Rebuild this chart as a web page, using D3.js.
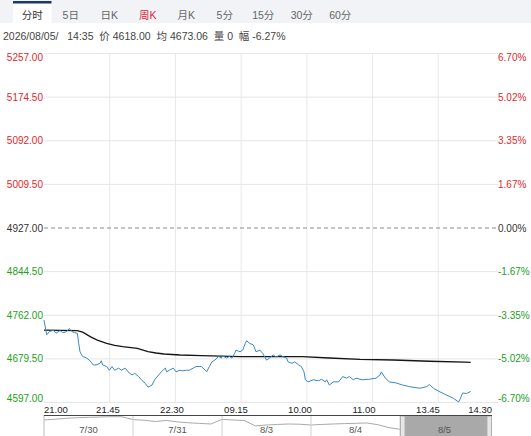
<!DOCTYPE html>
<html>
<head>
<meta charset="utf-8">
<script src="https://cdn.jsdelivr.net/npm/d3@7/dist/d3.min.js"></script>
<style>
body { margin: 0; background: #fff; }
svg { display: block; font-family: "Liberation Sans", Arial, "Noto Sans CJK SC", sans-serif; }
</style>
</head>
<body>
<div id="chart"></div>
<script>
// tabs and quote header
const tabs = ['分时', '5日', '日K', '周K', '月K', '5分', '15分', '30分', '60分'];
const activeTab = '分时';
const hotTab = '周K';
const quoteDate = '2026/08/05/';
const quoteTime = '14:35';
const lastPrice = 4618.00;
const avgPrice = 4673.06;
const volume = 0;
const changePct = '-6.27%';

// axes
const prevSettle = 4927;
const yTicks = [5257, 5174.5, 5092, 5009.5, 4927, 4844.5, 4762, 4679.5, 4597];
const xLabels = ['21.00', '21.45', '22.30', '09.15', '10.00', '11.00', '13.45', '14.30'];
const sessions = [['21:00', '23:00'], ['09:00', '10:15'], ['10:30', '11:30'], ['13:30', '15:00']];

// price line
const priceTimes = ['21:00', '21:02', '21:04', '21:07', '21:09', '21:12', '21:14', '21:17', '21:19', '21:21',
                    '21:23', '21:25', '21:26', '21:27', '21:29', '21:32', '21:34', '21:37', '21:39', '21:42',
                    '21:43', '21:44', '21:47', '21:49', '21:51', '21:53', '21:56', '21:58', '22:01', '22:03',
                    '22:06', '22:08', '22:11', '22:13', '22:16', '22:18', '22:21', '22:23', '22:26', '22:28',
                    '22:31', '22:32', '22:34', '22:37', '22:39', '22:42', '22:44', '22:47', '22:49', '22:52',
                    '22:54', '22:58', '09:01', '09:02', '09:04', '09:06', '09:08', '09:11', '09:13', '09:14',
                    '09:17', '09:19', '09:21', '09:23', '09:24', '09:27', '09:29', '09:31', '09:32', '09:34',
                    '09:37', '09:39', '09:42', '09:44', '09:47', '09:49', '09:52', '09:54', '09:57', '09:59',
                    '10:02', '10:03', '10:06', '10:08', '10:11', '10:13', '10:30', '10:31', '10:33', '10:37',
                    '10:41', '10:43', '10:46', '10:47', '10:49', '10:52', '10:56', '10:59', '11:02', '11:04',
                    '11:07', '11:09', '11:12', '11:14', '11:19', '11:24', '11:27', '11:28', '13:31', '13:34',
                    '13:39', '13:44', '13:49', '13:54', '13:57', '14:02', '14:04', '14:07', '14:12', '14:17',
                    '14:22', '14:26', '14:27', '14:29', '14:32', '14:35'];
const prices = [4753, 4725, 4731, 4734, 4728, 4733, 4729, 4731, 4737, 4731,
                4729, 4728, 4709, 4693, 4684, 4681, 4677, 4668, 4668, 4671,
                4676, 4668, 4665, 4658, 4665, 4658, 4662, 4658, 4662, 4655,
                4649, 4652, 4646, 4640, 4633, 4626, 4630, 4640, 4649, 4655,
                4662, 4655, 4658, 4662, 4655, 4658, 4657, 4658, 4658, 4662,
                4665, 4665, 4658, 4655, 4665, 4674, 4677, 4684, 4681, 4685,
                4681, 4684, 4681, 4690, 4696, 4693, 4696, 4709, 4714, 4709,
                4706, 4693, 4696, 4690, 4677, 4681, 4687, 4683, 4687, 4684,
                4681, 4674, 4671, 4674, 4668, 4665, 4655, 4640, 4636, 4640,
                4638, 4641, 4636, 4640, 4630, 4636, 4636, 4646, 4643, 4646,
                4640, 4643, 4641, 4640, 4641, 4643, 4649, 4655, 4643, 4636,
                4634, 4630, 4627, 4625, 4624, 4627, 4631, 4624, 4617, 4611,
                4605, 4598, 4603, 4615, 4614, 4618];

// average price line
const avgTimes = ['21:00', '21:25', '21:29', '21:35', '21:40', '21:47', '21:53', '21:59', '22:10', '22:18',
                  '22:24', '22:30', '22:42', '22:58', '09:27', '09:49', '10:14', '10:49', '11:12', '13:37',
                  '14:04', '14:31', '14:35'];
const avgPrices = [4734, 4733, 4730, 4721, 4715, 4709, 4705, 4702.5, 4699.5, 4693,
                   4690.6, 4688.7, 4686.8, 4685.5, 4683.6, 4683.6, 4683.6, 4681.2, 4678.7, 4677.4,
                   4675, 4673.5, 4673.06];

// navigator: days and a coarse price trace, 8 samples per day
const navDays = ['7/30', '7/31', '8/3', '8/4', '8/5'];
const navPrices = [4941, 4960, 4981, 4995, 5005, 5012, 5020, 5018,
                   4950, 4935, 4905, 4930, 4895, 4875, 4860, 4846,
                   4957, 4941, 4930, 4800, 4822, 4835, 4846, 4840,
                   4822, 4835, 4846, 4855, 4862, 4870, 4830, 4760,
                   4719, 4690, 4680, 4660, 4650, 4640, 4630, 4625];

// minutes since the night open, skipping the breaks
function tradeIndex(s) {
    const toMin = t => { const [h, m] = t.split(':').map(Number); return h * 60 + m; };
    const m = toMin(s);
    let offset = 0;
    for (let [a, b] of sessions) {
        const s0 = toMin(a), s1 = toMin(b);
        if (m >= s0 && m <= s1) return offset + m - s0;
        offset += s1 - s0;
    }
    return offset;
}

class MinuteChart {
    element;

    constructor(id) {
        this.element = document.getElementById(id);
    }

    draw() {
        this.element.innerHTML = '';
        const W = 531, H = 436;
        const plot = { left: 44, right: 504, top: 53.5, bottom: 402.5, gridEnd: 498 };
        const red = '#e3262a', green = '#22a022', grey = '#333';
        const dayLength = tradeIndex(sessions[sessions.length - 1][1]);

        const svg = d3.select(this.element).append('svg')
                      .attr('width', W)
                      .attr('height', H);

        // tab bar
        const tabX = d3.scaleBand()
                       .domain(tabs)
                       .range([13, 13 + tabs.length * 38.5]);

        svg.append('rect')
            .attr('width', W).attr('height', 23)
            .style('fill', '#f1f3f6');

        svg.append('rect')
            .attr('x', tabX(activeTab)).attr('y', 1)
            .attr('width', tabX.bandwidth()).attr('height', 22)
            .style('fill', '#fff');
        svg.append('rect')
            .attr('x', tabX(activeTab)).attr('y', 1)
            .attr('width', tabX.bandwidth()).attr('height', 2.5)
            .style('fill', '#1e3868');

        svg.selectAll('text.tab')
            .data(tabs)
            .enter()
            .append('text')
                .attr('x', d => tabX(d) + tabX.bandwidth() / 2)
                .attr('y', 19)
                .attr('text-anchor', 'middle')
                .style('font-size', '10.5px')
                .style('fill', d => d === hotTab ? '#d9273c' : (d === activeTab ? '#333' : '#666'))
                .text(d => d);

        // quote line
        const info = [quoteDate + '   ' + quoteTime,
                      '价 ' + lastPrice.toFixed(2),
                      '均 ' + avgPrice.toFixed(2),
                      '量 ' + volume,
                      '幅 ' + changePct].join('  ');
        svg.append('text')
            .attr('x', 3).attr('y', 40)
            .attr('xml:space', 'preserve')
            .style('font-size', '10.5px')
            .style('fill', '#444')
            .text(info);

        // scales
        const x = d3.scaleLinear()
                    .domain([0, dayLength])
                    .range([plot.left, plot.right]);

        const y = d3.scaleLinear()
                    .domain([d3.min(yTicks), d3.max(yTicks)])
                    .range([plot.bottom, plot.top]);

        const labelX = d3.scalePoint()
                         .domain(xLabels)
                         .range([44, 492]);

        const g = svg.append('g');

        // vertical grid
        g.selectAll('line.vgrid')
            .data(d3.range(1, 7))
            .enter()
            .append('line')
                .attr('x1', i => x(i * dayLength / 7)).attr('x2', i => x(i * dayLength / 7))
                .attr('y1', plot.top).attr('y2', plot.bottom)
                .style('stroke', '#e8e8e8');

        // horizontal grid, dashed at the previous settlement
        g.selectAll('line.hgrid')
            .data(yTicks)
            .enter()
            .append('line')
                .attr('x1', plot.left).attr('x2', plot.gridEnd)
                .attr('y1', d => y(d)).attr('y2', d => y(d))
                .style('stroke', d => d === prevSettle ? '#8a8a8a' : '#e6e6e6')
                .style('stroke-dasharray', d => d === prevSettle ? '4,3' : null);

        const tickColor = d => d > prevSettle ? red : (d < prevSettle ? green : grey);
        const nudge = d => d === d3.max(yTicks) ? 4 : (d === d3.min(yTicks) ? -4 : 0);

        g.selectAll('text.ly')
            .data(yTicks)
            .enter()
            .append('text')
                .attr('x', 43)
                .attr('y', d => y(d) + nudge(d) + 3.5)
                .attr('text-anchor', 'end')
                .style('font-size', '10px')
                .style('fill', tickColor)
                .text(d => d.toFixed(2));

        g.selectAll('text.ry')
            .data(yTicks)
            .enter()
            .append('text')
                .attr('x', 498)
                .attr('y', d => y(d) + nudge(d) + 3.5)
                .style('font-size', '10px')
                .style('fill', tickColor)
                .text(d => ((d - prevSettle) / prevSettle * 100).toFixed(2) + '%');

        g.selectAll('text.tx')
            .data(xLabels)
            .enter()
            .append('text')
                .attr('x', d => labelX(d))
                .attr('y', 413)
                .attr('text-anchor', (d, i) => i === 0 ? 'start' : (i === xLabels.length - 1 ? 'end' : 'middle'))
                .style('font-size', '9.5px')
                .style('fill', '#222')
                .text(d => d);

        // average and price lines
        const line = d3.line()
                       .x(d => x(tradeIndex(d[0])))
                       .y(d => y(d[1]));

        g.append('path')
            .datum(d3.zip(avgTimes, avgPrices))
            .attr('d', line)
            .style('fill', 'none')
            .style('stroke', '#151515')
            .style('stroke-width', 1.3);

        g.append('path')
            .datum(d3.zip(priceTimes, prices))
            .attr('d', line)
            .style('fill', 'none')
            .style('stroke', '#3a88c6')
            .style('stroke-width', 1);

        // navigator
        const nav = { left: 44, right: 489, top: 415, bottom: 440 };
        const nx = d3.scaleLinear()
                     .domain([0, navPrices.length])
                     .range([nav.left, nav.right]);
        const ny = d3.scaleLinear()
                     .domain([4560, 5060])
                     .range([436, 415]);
        const per = navPrices.length / navDays.length;

        const n = svg.append('g');

        n.append('path')
            .datum(navPrices)
            .attr('d', d3.line().x((d, i) => nx(i)).y(d => ny(d)))
            .style('fill', 'none')
            .style('stroke', '#aaa')
            .style('stroke-width', 1);

        n.selectAll('line.div')
            .data(navDays.slice(1))
            .enter()
            .append('line')
                .attr('x1', (d, i) => nx((i + 1) * per)).attr('x2', (d, i) => nx((i + 1) * per))
                .attr('y1', nav.top).attr('y2', nav.bottom)
                .style('stroke', '#cfcfcf');

        const last = navDays.length - 1;
        n.append('rect')
            .attr('x', nx(last * per) + 5).attr('y', nav.top)
            .attr('width', nx(navPrices.length) - nx(last * per) - 7).attr('height', nav.bottom - nav.top)
            .style('fill', '#a9a9a9');
        n.append('rect')
            .attr('x', nx(last * per) + 0.5).attr('y', nav.top + 1)
            .attr('width', 4.5).attr('height', nav.bottom - nav.top)
            .style('fill', '#e6e6e6').style('stroke', '#b0b0b0');
        n.append('rect')
            .attr('x', nx(navPrices.length) - 2).attr('y', nav.top + 1)
            .attr('width', 4.5).attr('height', nav.bottom - nav.top)
            .style('fill', '#e6e6e6').style('stroke', '#b0b0b0');

        n.append('line')
            .attr('x1', nav.left).attr('x2', nav.left)
            .attr('y1', nav.top).attr('y2', nav.bottom)
            .style('stroke', '#bbb');
        n.append('line')
            .attr('x1', nav.left).attr('x2', nav.right + 3)
            .attr('y1', nav.top + 0.5).attr('y2', nav.top + 0.5)
            .style('stroke', '#444');

        n.selectAll('text.day')
            .data(navDays)
            .enter()
            .append('text')
                .attr('x', (d, i) => nx(i * per + per / 2))
                .attr('y', 433)
                .attr('text-anchor', 'middle')
                .style('font-size', '9.5px')
                .style('fill', '#555')
                .text(d => d);
    }
}

new MinuteChart('chart').draw();
</script>
</body>
</html>
